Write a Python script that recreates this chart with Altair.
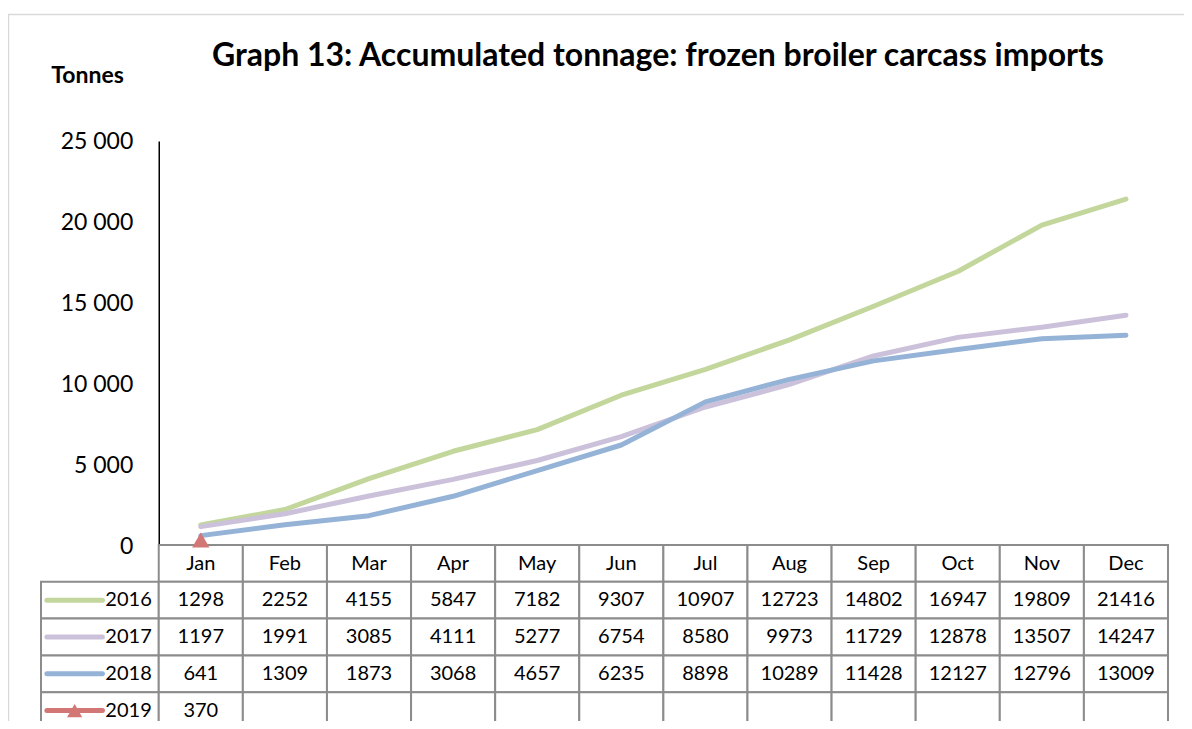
import altair as alt
import pandas as pd

# ---------------- data ----------------
months = ["Jan", "Feb", "Mar", "Apr", "May", "Jun", "Jul", "Aug", "Sep", "Oct", "Nov", "Dec"]
years = ["2016", "2017", "2018", "2019"]
v2016 = [1298, 2252, 4155, 5847, 7182, 9307, 10907, 12723, 14802, 16947, 19809, 21416]
v2017 = [1197, 1991, 3085, 4111, 5277, 6754, 8580, 9973, 11729, 12878, 13507, 14247]
v2018 = [641, 1309, 1873, 3068, 4657, 6235, 8898, 10289, 11428, 12127, 12796, 13009]
v2019 = [370]
colors = ["#C3D69B", "#CCC1DA", "#95B3D7", "#D37676"]
y_ticks = [0, 5000, 10000, 15000, 20000, 25000]
title_text = "Graph 13: Accumulated tonnage: frozen broiler carcass imports"
y_title = "Tonnes"

FONT = "Lato"
LABEL_COL = 1.4          # width of the table's label column, in month-column units
COL_PX = 1127 / 13.4     # pixel width of one month column

series = {"2016": v2016, "2017": v2017, "2018": v2018, "2019": v2019}

line_rows = []
for yr, vals in series.items():
    for i, v in enumerate(vals):
        line_rows.append({"year": yr, "month": months[i], "pos": i + 0.5, "value": v})
lines_df = pd.DataFrame(line_rows)

table_rows = ["hdr"] + years
cell_rows = []
for r in table_rows:
    if r != "hdr":
        cell_rows.append({"row": r, "x0": -LABEL_COL, "x1": 0})
    for i in range(len(months)):
        cell_rows.append({"row": r, "x0": i, "x1": i + 1})
cells_df = pd.DataFrame(cell_rows)

hdr_df = pd.DataFrame({"row": "hdr", "pos": [i + 0.5 for i in range(len(months))], "label": months})
val_df = lines_df.assign(row=lines_df["year"], label=lines_df["value"].astype(str))
keys_df = pd.DataFrame({"row": years, "year": years})
keys_df["k0"] = -LABEL_COL + 0.07
keys_df["k1"] = -LABEL_COL + 0.73
keys_df["km"] = -LABEL_COL + 0.40
keys_df["lx"] = 0.0

# ---------------- scales ----------------
xscale = alt.Scale(domain=[-LABEL_COL, 12], nice=False, zero=False)
yscale = alt.Scale(domain=[0, 25000], range=[405, 0], nice=False)
tscale = alt.Scale(domain=table_rows, range=[404, 588], paddingInner=0, paddingOuter=0)
cscale = alt.Scale(domain=years, range=colors)

# ---------------- table ----------------
rects = alt.Chart(cells_df).mark_rect(fill="white", stroke="#8C8C8C", strokeWidth=2).encode(
    x=alt.X("x0:Q", scale=xscale, axis=None),
    x2="x1:Q",
    y=alt.Y("row:N", scale=tscale, axis=None),
)
hdr_text = alt.Chart(hdr_df).mark_text(font=FONT, fontSize=20, color="black", dy=1).encode(
    x=alt.X("pos:Q", scale=xscale, axis=None),
    y=alt.Y("row:N", scale=tscale, axis=None),
    text="label:N",
)
val_text = alt.Chart(val_df).mark_text(font=FONT, fontSize=20, color="black").encode(
    x=alt.X("pos:Q", scale=xscale, axis=None),
    y=alt.Y("row:N", scale=tscale, axis=None),
    text="label:N",
)
key_lines = alt.Chart(keys_df).mark_rule(strokeWidth=5, strokeCap="round").encode(
    x=alt.X("k0:Q", scale=xscale, axis=None),
    x2="k1:Q",
    y=alt.Y("row:N", scale=tscale, axis=None),
    color=alt.Color("year:N", scale=cscale, legend=None),
)
key_pt = alt.Chart(keys_df).transform_filter("datum.year == '2019'").mark_point(
    shape="triangle-up", filled=True, size=230, opacity=1
).encode(
    x=alt.X("km:Q", scale=xscale, axis=None),
    y=alt.Y("row:N", scale=tscale, axis=None),
    color=alt.Color("year:N", scale=cscale, legend=None),
)
key_text = alt.Chart(keys_df).mark_text(font=FONT, fontSize=20, color="black", align="right", dx=-7).encode(
    x=alt.X("lx:Q", scale=xscale, axis=None),
    y=alt.Y("row:N", scale=tscale, axis=None),
    text="year:N",
)

# ---------------- lines ----------------
lines = alt.Chart(lines_df).transform_filter("datum.year != '2019'").mark_line(
    strokeWidth=5, strokeCap="round", strokeJoin="round"
).encode(
    x=alt.X("pos:Q", scale=xscale, axis=None),
    y=alt.Y(
        "value:Q",
        scale=yscale,
        axis=alt.Axis(
            values=y_ticks,
            labelExpr="replace(format(datum.value, ','), ',', ' ')",
            offset=-LABEL_COL * COL_PX,
            grid=False,
            ticks=False,
            domainColor="black",
            domainWidth=1.5,
            labelFont=FONT,
            labelFontSize=23,
            labelColor="black",
            labelPadding=26,
            title=y_title,
            titleFont=FONT,
            titleFontSize=23,
            titleFontWeight="bold",
            titleColor="black",
            titleAngle=0,
            titleAlign="center",
            titleBaseline="middle",
            titleX=46 - LABEL_COL * COL_PX,
            titleY=-66,
        ),
    ),
    color=alt.Color("year:N", scale=cscale, legend=None),
)
point19 = alt.Chart(lines_df).transform_filter("datum.year == '2019'").mark_point(
    shape="triangle-up", filled=True, size=300, opacity=1
).encode(
    x=alt.X("pos:Q", scale=xscale, axis=None),
    y=alt.Y("value:Q", scale=yscale, axis=None),
    color=alt.Color("year:N", scale=cscale, legend=None),
)

# ---------------- outer frame ----------------
frame_df = pd.DataFrame({"f": [0]})
frame_v = alt.Chart(frame_df).mark_rule(color="#D9D9D9", strokeWidth=1.5).encode(
    x=alt.value(-32.5), y=alt.value(-127), y2=alt.value(700)
)
frame_h = alt.Chart(frame_df).mark_rule(color="#D9D9D9", strokeWidth=1.5).encode(
    x=alt.value(-33), x2=alt.value(1200), y=alt.value(-126.5)
)

chart = alt.layer(
    frame_v, frame_h, rects, hdr_text, val_text, key_lines, key_pt, key_text, lines, point19
).resolve_scale(y="independent").properties(
    width=1127,
    height=580,
    autosize=alt.AutoSizeParams(type="none"),
    padding={"left": 33, "top": 133, "right": 16, "bottom": 0},
    title=alt.TitleParams(
        title_text,
        font=FONT,
        fontSize=32,
        fontWeight="bold",
        color="black",
        anchor="start",
        frame="group",
        dx=171,
        offset=-60,
    ),
).configure(
    background="white",
    view=alt.ViewConfig(strokeWidth=0),
)

chart.save("out.html", embed_options={"renderer": "svg", "actions": False})
